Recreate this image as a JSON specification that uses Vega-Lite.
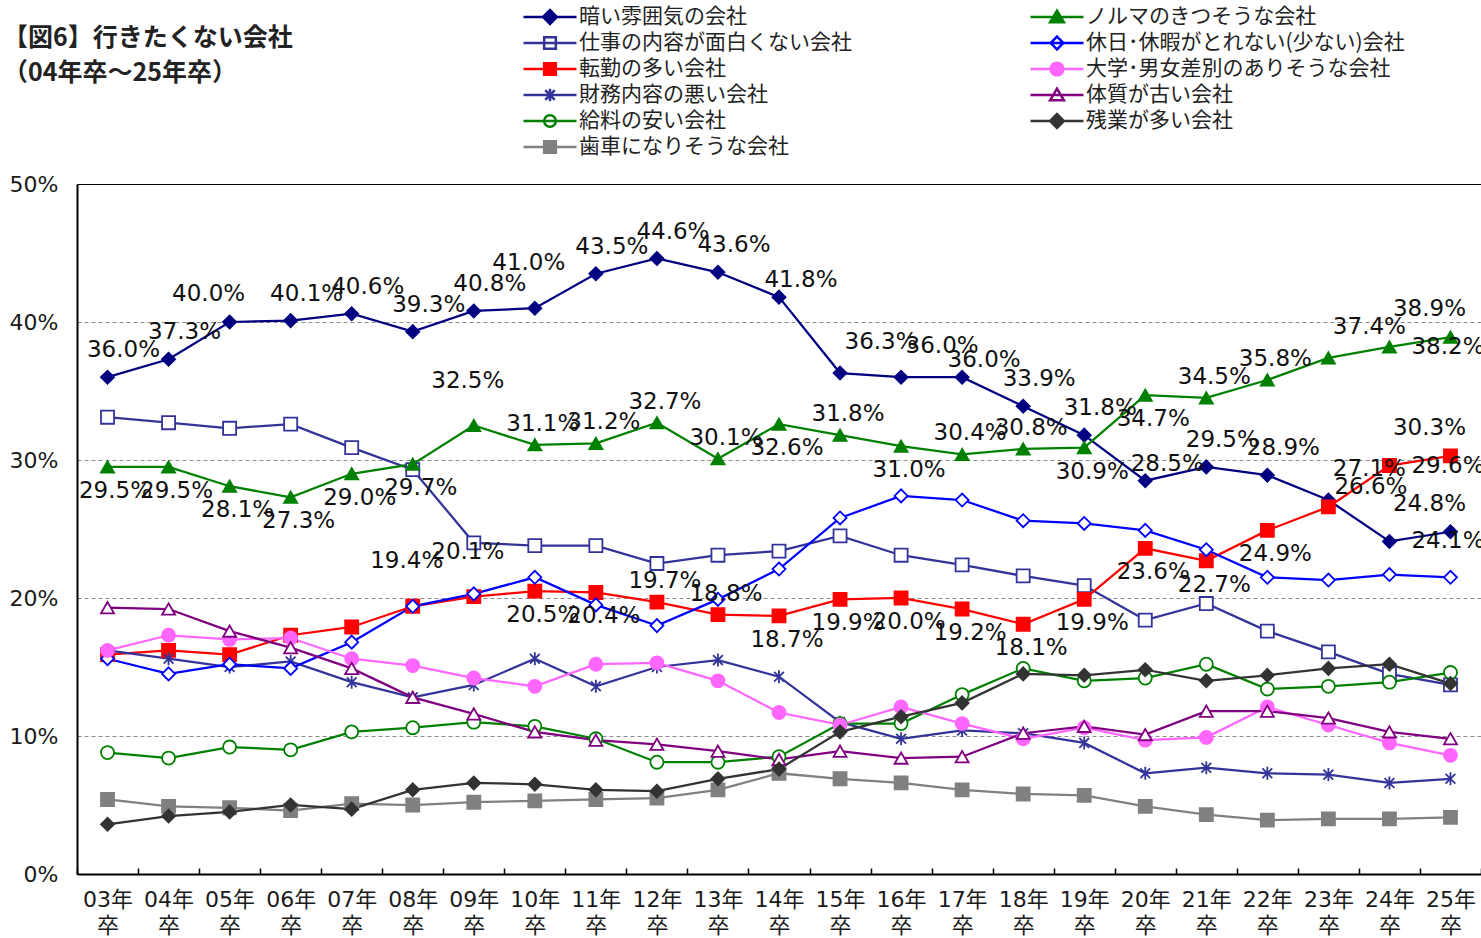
{
  "$schema": "https://vega.github.io/schema/vega-lite/v6.json",
  "width": 1404,
  "height": 690,
  "autosize": {"type": "none"},
  "padding": {"left": 77, "top": 184, "right": 0, "bottom": 64},
  "background": "white",
  "title": {
    "text": ["【図6】行きたくない会社", "\u00a0\u00a0\u00a0（04年卒～25年卒）"],
    "anchor": "start",
    "frame": "group",
    "font": "Noto Sans CJK JP",
    "fontSize": 25,
    "fontWeight": "bold",
    "color": "#222222",
    "lineHeight": 35,
    "dx": -74,
    "offset": 0,
    "baseline": "top",
    "dy": 82
  },
  "data": {
    "values": [
      {"yr": "03年卒", "暗い雰囲気の会社": 0.360, "仕事の内容が面白くない会社": 0.331, "転勤の多い会社": 0.159, "財務内容の悪い会社": 0.162, "給料の安い会社": 0.088, "歯車になりそうな会社": 0.054, "ノルマのきつそうな会社": 0.295, "休日･休暇がとれない(少ない)会社": 0.156, "大学･男女差別のありそうな会社": 0.162, "体質が古い会社": 0.193, "残業が多い会社": 0.036},
      {"yr": "04年卒", "暗い雰囲気の会社": 0.373, "仕事の内容が面白くない会社": 0.327, "転勤の多い会社": 0.162, "財務内容の悪い会社": 0.156, "給料の安い会社": 0.084, "歯車になりそうな会社": 0.049, "ノルマのきつそうな会社": 0.295, "休日･休暇がとれない(少ない)会社": 0.145, "大学･男女差別のありそうな会社": 0.173, "体質が古い会社": 0.192, "残業が多い会社": 0.042},
      {"yr": "05年卒", "暗い雰囲気の会社": 0.400, "仕事の内容が面白くない会社": 0.323, "転勤の多い会社": 0.159, "財務内容の悪い会社": 0.150, "給料の安い会社": 0.092, "歯車になりそうな会社": 0.048, "ノルマのきつそうな会社": 0.281, "休日･休暇がとれない(少ない)会社": 0.152, "大学･男女差別のありそうな会社": 0.170, "体質が古い会社": 0.176, "残業が多い会社": 0.045},
      {"yr": "06年卒", "暗い雰囲気の会社": 0.401, "仕事の内容が面白くない会社": 0.326, "転勤の多い会社": 0.173, "財務内容の悪い会社": 0.154, "給料の安い会社": 0.090, "歯車になりそうな会社": 0.046, "ノルマのきつそうな会社": 0.273, "休日･休暇がとれない(少ない)会社": 0.149, "大学･男女差別のありそうな会社": 0.171, "体質が古い会社": 0.164, "残業が多い会社": 0.050},
      {"yr": "07年卒", "暗い雰囲気の会社": 0.406, "仕事の内容が面白くない会社": 0.309, "転勤の多い会社": 0.179, "財務内容の悪い会社": 0.139, "給料の安い会社": 0.103, "歯車になりそうな会社": 0.051, "ノルマのきつそうな会社": 0.290, "休日･休暇がとれない(少ない)会社": 0.168, "大学･男女差別のありそうな会社": 0.156, "体質が古い会社": 0.149, "残業が多い会社": 0.047},
      {"yr": "08年卒", "暗い雰囲気の会社": 0.393, "仕事の内容が面白くない会社": 0.293, "転勤の多い会社": 0.194, "財務内容の悪い会社": 0.128, "給料の安い会社": 0.106, "歯車になりそうな会社": 0.050, "ノルマのきつそうな会社": 0.297, "休日･休暇がとれない(少ない)会社": 0.194, "大学･男女差別のありそうな会社": 0.151, "体質が古い会社": 0.128, "残業が多い会社": 0.061},
      {"yr": "09年卒", "暗い雰囲気の会社": 0.408, "仕事の内容が面白くない会社": 0.240, "転勤の多い会社": 0.201, "財務内容の悪い会社": 0.137, "給料の安い会社": 0.110, "歯車になりそうな会社": 0.052, "ノルマのきつそうな会社": 0.325, "休日･休暇がとれない(少ない)会社": 0.203, "大学･男女差別のありそうな会社": 0.142, "体質が古い会社": 0.116, "残業が多い会社": 0.066},
      {"yr": "10年卒", "暗い雰囲気の会社": 0.410, "仕事の内容が面白くない会社": 0.238, "転勤の多い会社": 0.205, "財務内容の悪い会社": 0.156, "給料の安い会社": 0.107, "歯車になりそうな会社": 0.053, "ノルマのきつそうな会社": 0.311, "休日･休暇がとれない(少ない)会社": 0.215, "大学･男女差別のありそうな会社": 0.136, "体質が古い会社": 0.103, "残業が多い会社": 0.065},
      {"yr": "11年卒", "暗い雰囲気の会社": 0.435, "仕事の内容が面白くない会社": 0.238, "転勤の多い会社": 0.204, "財務内容の悪い会社": 0.136, "給料の安い会社": 0.098, "歯車になりそうな会社": 0.054, "ノルマのきつそうな会社": 0.312, "休日･休暇がとれない(少ない)会社": 0.195, "大学･男女差別のありそうな会社": 0.152, "体質が古い会社": 0.097, "残業が多い会社": 0.061},
      {"yr": "12年卒", "暗い雰囲気の会社": 0.446, "仕事の内容が面白くない会社": 0.225, "転勤の多い会社": 0.197, "財務内容の悪い会社": 0.150, "給料の安い会社": 0.081, "歯車になりそうな会社": 0.055, "ノルマのきつそうな会社": 0.327, "休日･休暇がとれない(少ない)会社": 0.180, "大学･男女差別のありそうな会社": 0.153, "体質が古い会社": 0.094, "残業が多い会社": 0.060},
      {"yr": "13年卒", "暗い雰囲気の会社": 0.436, "仕事の内容が面白くない会社": 0.231, "転勤の多い会社": 0.188, "財務内容の悪い会社": 0.155, "給料の安い会社": 0.081, "歯車になりそうな会社": 0.061, "ノルマのきつそうな会社": 0.301, "休日･休暇がとれない(少ない)会社": 0.199, "大学･男女差別のありそうな会社": 0.140, "体質が古い会社": 0.089, "残業が多い会社": 0.069},
      {"yr": "14年卒", "暗い雰囲気の会社": 0.418, "仕事の内容が面白くない会社": 0.234, "転勤の多い会社": 0.187, "財務内容の悪い会社": 0.143, "給料の安い会社": 0.085, "歯車になりそうな会社": 0.073, "ノルマのきつそうな会社": 0.326, "休日･休暇がとれない(少ない)会社": 0.221, "大学･男女差別のありそうな会社": 0.117, "体質が古い会社": 0.083, "残業が多い会社": 0.076},
      {"yr": "15年卒", "暗い雰囲気の会社": 0.363, "仕事の内容が面白くない会社": 0.245, "転勤の多い会社": 0.199, "財務内容の悪い会社": 0.110, "給料の安い会社": 0.109, "歯車になりそうな会社": 0.069, "ノルマのきつそうな会社": 0.318, "休日･休暇がとれない(少ない)会社": 0.258, "大学･男女差別のありそうな会社": 0.108, "体質が古い会社": 0.089, "残業が多い会社": 0.103},
      {"yr": "16年卒", "暗い雰囲気の会社": 0.360, "仕事の内容が面白くない会社": 0.231, "転勤の多い会社": 0.200, "財務内容の悪い会社": 0.098, "給料の安い会社": 0.109, "歯車になりそうな会社": 0.066, "ノルマのきつそうな会社": 0.310, "休日･休暇がとれない(少ない)会社": 0.274, "大学･男女差別のありそうな会社": 0.121, "体質が古い会社": 0.084, "残業が多い会社": 0.114},
      {"yr": "17年卒", "暗い雰囲気の会社": 0.360, "仕事の内容が面白くない会社": 0.224, "転勤の多い会社": 0.192, "財務内容の悪い会社": 0.104, "給料の安い会社": 0.130, "歯車になりそうな会社": 0.061, "ノルマのきつそうな会社": 0.304, "休日･休暇がとれない(少ない)会社": 0.271, "大学･男女差別のありそうな会社": 0.109, "体質が古い会社": 0.085, "残業が多い会社": 0.124},
      {"yr": "18年卒", "暗い雰囲気の会社": 0.339, "仕事の内容が面白くない会社": 0.216, "転勤の多い会社": 0.181, "財務内容の悪い会社": 0.102, "給料の安い会社": 0.149, "歯車になりそうな会社": 0.058, "ノルマのきつそうな会社": 0.308, "休日･休暇がとれない(少ない)会社": 0.256, "大学･男女差別のありそうな会社": 0.098, "体質が古い会社": 0.102, "残業が多い会社": 0.145},
      {"yr": "19年卒", "暗い雰囲気の会社": 0.318, "仕事の内容が面白くない会社": 0.209, "転勤の多い会社": 0.199, "財務内容の悪い会社": 0.095, "給料の安い会社": 0.140, "歯車になりそうな会社": 0.057, "ノルマのきつそうな会社": 0.309, "休日･休暇がとれない(少ない)会社": 0.254, "大学･男女差別のありそうな会社": 0.106, "体質が古い会社": 0.107, "残業が多い会社": 0.144},
      {"yr": "20年卒", "暗い雰囲気の会社": 0.285, "仕事の内容が面白くない会社": 0.184, "転勤の多い会社": 0.236, "財務内容の悪い会社": 0.073, "給料の安い会社": 0.142, "歯車になりそうな会社": 0.049, "ノルマのきつそうな会社": 0.347, "休日･休暇がとれない(少ない)会社": 0.249, "大学･男女差別のありそうな会社": 0.097, "体質が古い会社": 0.101, "残業が多い会社": 0.148},
      {"yr": "21年卒", "暗い雰囲気の会社": 0.295, "仕事の内容が面白くない会社": 0.196, "転勤の多い会社": 0.227, "財務内容の悪い会社": 0.077, "給料の安い会社": 0.152, "歯車になりそうな会社": 0.043, "ノルマのきつそうな会社": 0.345, "休日･休暇がとれない(少ない)会社": 0.235, "大学･男女差別のありそうな会社": 0.099, "体質が古い会社": 0.118, "残業が多い会社": 0.140},
      {"yr": "22年卒", "暗い雰囲気の会社": 0.289, "仕事の内容が面白くない会社": 0.176, "転勤の多い会社": 0.249, "財務内容の悪い会社": 0.073, "給料の安い会社": 0.134, "歯車になりそうな会社": 0.039, "ノルマのきつそうな会社": 0.358, "休日･休暇がとれない(少ない)会社": 0.215, "大学･男女差別のありそうな会社": 0.121, "体質が古い会社": 0.118, "残業が多い会社": 0.144},
      {"yr": "23年卒", "暗い雰囲気の会社": 0.271, "仕事の内容が面白くない会社": 0.161, "転勤の多い会社": 0.266, "財務内容の悪い会社": 0.072, "給料の安い会社": 0.136, "歯車になりそうな会社": 0.040, "ノルマのきつそうな会社": 0.374, "休日･休暇がとれない(少ない)会社": 0.213, "大学･男女差別のありそうな会社": 0.108, "体質が古い会社": 0.113, "残業が多い会社": 0.149},
      {"yr": "24年卒", "暗い雰囲気の会社": 0.241, "仕事の内容が面白くない会社": 0.145, "転勤の多い会社": 0.296, "財務内容の悪い会社": 0.066, "給料の安い会社": 0.139, "歯車になりそうな会社": 0.040, "ノルマのきつそうな会社": 0.382, "休日･休暇がとれない(少ない)会社": 0.217, "大学･男女差別のありそうな会社": 0.095, "体質が古い会社": 0.103, "残業が多い会社": 0.152},
      {"yr": "25年卒", "暗い雰囲気の会社": 0.248, "仕事の内容が面白くない会社": 0.137, "転勤の多い会社": 0.303, "財務内容の悪い会社": 0.069, "給料の安い会社": 0.146, "歯車になりそうな会社": 0.041, "ノルマのきつそうな会社": 0.389, "休日･休暇がとれない(少ない)会社": 0.215, "大学･男女差別のありそうな会社": 0.086, "体質が古い会社": 0.098, "残業が多い会社": 0.138}
    ]
  },
  "transform": [
    {"fold": ["暗い雰囲気の会社", "仕事の内容が面白くない会社", "転勤の多い会社", "財務内容の悪い会社", "給料の安い会社", "歯車になりそうな会社", "ノルマのきつそうな会社", "休日･休暇がとれない(少ない)会社", "大学･男女差別のありそうな会社", "体質が古い会社", "残業が多い会社"], "as": ["s", "v"]}
  ],
  "encoding": {
    "x": {
      "field": "yr", "type": "ordinal", "sort": null,
      "scale": {"type": "band", "paddingInner": 0, "paddingOuter": 0},
      "axis": {
        "title": null,
        "labelExpr": "indexof(datum.label, '年') > 0 ? [slice(datum.label, 0, 3), '卒'] : ''",
        "labelAngle": 0,
        "labelFont": "DejaVu Sans, Noto Sans CJK JP",
        "labelFontSize": 22,
        "labelLineHeight": 26,
        "labelColor": "#1a1a1a",
        "labelBaseline": "top",
        "labelPadding": 21,
        "tickBand": "extent",
        "tickSize": -6,
        "tickColor": "black",
        "tickWidth": 1.5,
        "domainColor": "black",
        "domainWidth": 2,
        "grid": false
      }
    },
    "y": {
      "field": "v", "type": "quantitative",
      "scale": {"domain": [0, 0.5], "nice": false},
      "axis": {
        "title": null,
        "values": [0, 0.1, 0.2, 0.3, 0.4, 0.5],
        "format": ".0%",
        "ticks": false,
        "labelPadding": 19,
        "labelFont": "DejaVu Sans",
        "labelFontSize": 22,
        "labelColor": "#1a1a1a",
        "domainColor": "black",
        "domainWidth": 2,
        "grid": true,
        "gridDash": [4, 3],
        "gridWidth": 1,
        "gridColor": {"condition": {"test": "datum.value === 0 || datum.value === 0.5", "value": "transparent"}, "value": "#8c8c8c"}
      }
    }
  },
  "layer": [
    {
      "mark": {"type": "line", "strokeWidth": 2.25},
      "encoding": {
        "color": {
          "field": "s", "type": "nominal",
          "scale": {
            "domain": ["暗い雰囲気の会社", "仕事の内容が面白くない会社", "転勤の多い会社", "財務内容の悪い会社", "給料の安い会社", "歯車になりそうな会社", "ノルマのきつそうな会社", "休日･休暇がとれない(少ない)会社", "大学･男女差別のありそうな会社", "体質が古い会社", "残業が多い会社"],
            "range": ["#000080", "#333399", "#FF0000", "#333399", "#008000", "#808080", "#008000", "#0000FF", "#FF66FF", "#800080", "#333333"]
          },
          "legend": {
            "orient": "none",
            "legendX": 445,
            "legendY": -180,
            "columns": 2,
            "columnPadding": 177,
            "rowPadding": 0,
            "clipHeight": 26,
            "padding": 0,
            "symbolSize": 2809,
            "symbolStrokeWidth": 2.5,
            "labelFont": "Noto Sans CJK JP",
            "labelFontSize": 21,
            "labelColor": "#222222",
            "labelOffset": 1,
            "labelLimit": 600,
            "title": null,
            "encode": {
              "symbols": {
                "update": {
                  "shape": {"signal": "['M-1,0H1M-0.26,0L0,-0.26L0.26,0L0,0.26Z','M-1,0H1M-0.22,-0.22H0.22V0.22H-0.22Z','M-1,0H1M-0.22,-0.22H0.22V0.22H-0.22Z','M-1,0H1M-0.18,-0.18L0.18,0.18M-0.18,0.18L0.18,-0.18M0,-0.24V0.24','M-1,0H1M-0.22,0A0.22,0.22,0,1,1,0.22,0A0.22,0.22,0,1,1,-0.22,0Z','M-1,0H1M-0.22,-0.22H0.22V0.22H-0.22Z','M-1,0H1M0,-0.24L0.26,0.2L-0.26,0.2Z','M-1,0H1M-0.24,0L0,-0.24L0.24,0L0,0.24Z','M-1,0H1M-0.24,0A0.24,0.24,0,1,1,0.24,0A0.24,0.24,0,1,1,-0.24,0Z','M-1,0H1M0,-0.24L0.26,0.2L-0.26,0.2Z','M-1,0H1M-0.26,0L0,-0.26L0.26,0L0,0.26Z'][datum.index]"},
                  "fill": {"signal": "['#000080','transparent','#FF0000','transparent','transparent','#808080','#008000','transparent','#FF66FF','transparent','#333333'][datum.index]"},
                  "strokeWidth": {"value": 2.5},
                  "opacity": {"value": 1}
                }
              }
            }
          }
        }
      }
    },
    {
      "mark": {"type": "point", "size": 170, "strokeWidth": 1.8, "opacity": 1},
      "encoding": {
        "shape": {
          "field": "s", "type": "nominal", "legend": null,
          "scale": {
            "domain": ["残業が多い会社", "体質が古い会社", "大学･男女差別のありそうな会社", "休日･休暇がとれない(少ない)会社", "ノルマのきつそうな会社", "歯車になりそうな会社", "給料の安い会社", "財務内容の悪い会社", "転勤の多い会社", "仕事の内容が面白くない会社", "暗い雰囲気の会社"],
            "range": ["diamond", "triangle-up", "circle", "diamond", "triangle-up", "square", "circle", "M-0.75,-0.75L0.75,0.75M-0.75,0.75L0.75,-0.75M0,-1V1", "square", "square", "diamond"]
          }
        },
        "fill": {
          "field": "s", "type": "nominal", "legend": null,
          "scale": {
            "domain": ["残業が多い会社", "体質が古い会社", "大学･男女差別のありそうな会社", "休日･休暇がとれない(少ない)会社", "ノルマのきつそうな会社", "歯車になりそうな会社", "給料の安い会社", "財務内容の悪い会社", "転勤の多い会社", "仕事の内容が面白くない会社", "暗い雰囲気の会社"],
            "range": ["#333333", "#FFFFFF", "#FF66FF", "#FFFFFF", "#008000", "#808080", "#FFFFFF", "transparent", "#FF0000", "#FFFFFF", "#000080"]
          }
        },
        "stroke": {
          "field": "s", "type": "nominal", "legend": null,
          "scale": {
            "domain": ["残業が多い会社", "体質が古い会社", "大学･男女差別のありそうな会社", "休日･休暇がとれない(少ない)会社", "ノルマのきつそうな会社", "歯車になりそうな会社", "給料の安い会社", "財務内容の悪い会社", "転勤の多い会社", "仕事の内容が面白くない会社", "暗い雰囲気の会社"],
            "range": ["#333333", "#800080", "#FF66FF", "#0000FF", "#008000", "#808080", "#008000", "#333399", "#FF0000", "#333399", "#000080"]
          }
        }
      }
    },
    {
      "transform": [{"filter": "datum.s === '暗い雰囲気の会社' && indexof(['05年卒','10年卒','14年卒','15年卒','16年卒','17年卒','20年卒','23年卒','24年卒','25年卒'], datum.yr) < 0"}],
      "mark": {"type": "text", "font": "DejaVu Sans", "fontSize": 23, "color": "#111111", "dx": 16, "dy": -27},
      "encoding": {"text": {"field": "v", "type": "quantitative", "format": ".1%"}}
    },
    {
      "transform": [{"filter": "datum.s === '暗い雰囲気の会社' && indexof(['14年卒','17年卒','20年卒'], datum.yr) >= 0"}],
      "mark": {"type": "text", "font": "DejaVu Sans", "fontSize": 23, "color": "#111111", "dx": 22, "dy": -17},
      "encoding": {"text": {"field": "v", "type": "quantitative", "format": ".1%"}}
    },
    {
      "transform": [{"filter": "(datum.s === '暗い雰囲気の会社' && indexof(['15年卒','16年卒','23年卒'], datum.yr) >= 0) || (datum.s === 'ノルマのきつそうな会社' && datum.yr === '23年卒')"}],
      "mark": {"type": "text", "font": "DejaVu Sans", "fontSize": 23, "color": "#111111", "dx": 41, "dy": -31},
      "encoding": {"text": {"field": "v", "type": "quantitative", "format": ".1%"}}
    },
    {
      "transform": [{"filter": "datum.s === '転勤の多い会社' && datum.yr === '23年卒'"}],
      "mark": {"type": "text", "font": "DejaVu Sans", "fontSize": 23, "color": "#111111", "align": "left", "dx": 6, "dy": -20},
      "encoding": {"text": {"field": "v", "type": "quantitative", "format": ".1%"}}
    },
    {
      "transform": [{"filter": "(datum.s === 'ノルマのきつそうな会社' && indexof(['10年卒','11年卒','12年卒','13年卒','15年卒','17年卒','18年卒','21年卒','22年卒'], datum.yr) >= 0) || (datum.s === '転勤の多い会社' && indexof(['12年卒','13年卒'], datum.yr) >= 0)"}],
      "mark": {"type": "text", "font": "DejaVu Sans", "fontSize": 23, "color": "#111111", "dx": 8, "dy": -21},
      "encoding": {"text": {"field": "v", "type": "quantitative", "format": ".1%"}}
    },
    {
      "transform": [{"filter": "(datum.s === 'ノルマのきつそうな会社' && indexof(['03年卒','04年卒','05年卒','06年卒','07年卒','08年卒','14年卒','16年卒','19年卒','20年卒'], datum.yr) >= 0) || (datum.s === '転勤の多い会社' && indexof(['10年卒','11年卒','14年卒','15年卒','16年卒','17年卒','18年卒','19年卒','20年卒','21年卒','22年卒'], datum.yr) >= 0)"}],
      "mark": {"type": "text", "font": "DejaVu Sans", "fontSize": 23, "color": "#111111", "dx": 8, "dy": 24},
      "encoding": {"text": {"field": "v", "type": "quantitative", "format": ".1%"}}
    },
    {
      "transform": [{"filter": "datum.yr === '24年卒' && indexof(['暗い雰囲気の会社','ノルマのきつそうな会社','転勤の多い会社'], datum.s) >= 0"}],
      "mark": {"type": "text", "font": "DejaVu Sans", "fontSize": 23, "color": "#111111", "align": "left", "dx": 22, "dy": 0},
      "encoding": {"text": {"field": "v", "type": "quantitative", "format": ".1%"}}
    },
    {
      "transform": [{"filter": "(datum.yr === '25年卒' && indexof(['暗い雰囲気の会社','ノルマのきつそうな会社','転勤の多い会社'], datum.s) >= 0) || (datum.s === '暗い雰囲気の会社' && datum.yr === '05年卒')"}],
      "mark": {"type": "text", "font": "DejaVu Sans", "fontSize": 23, "color": "#111111", "dx": -21, "dy": -28},
      "encoding": {"text": {"field": "v", "type": "quantitative", "format": ".1%"}}
    },
    {
      "transform": [{"filter": "(datum.s === '暗い雰囲気の会社' && datum.yr === '10年卒') || (datum.s === 'ノルマのきつそうな会社' && datum.yr === '09年卒') || (datum.s === '転勤の多い会社' && indexof(['08年卒','09年卒'], datum.yr) >= 0)"}],
      "mark": {"type": "text", "font": "DejaVu Sans", "fontSize": 23, "color": "#111111", "dx": -6, "dy": -45},
      "encoding": {"text": {"field": "v", "type": "quantitative", "format": ".1%"}}
    }
  ],
  "config": {
    "view": {"stroke": "black", "strokeWidth": 1}
  }
}
